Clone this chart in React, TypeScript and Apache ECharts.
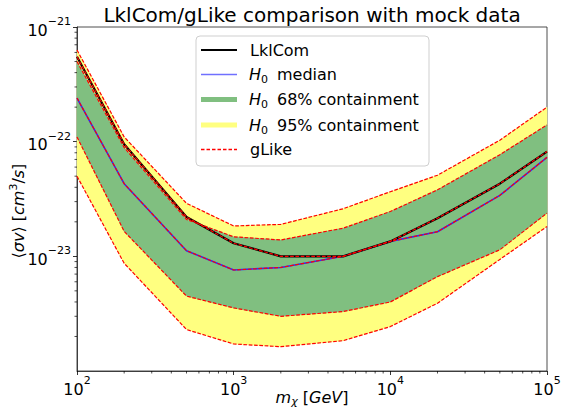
import React, { useEffect, useRef } from "react";
import * as echarts from "echarts";

// ---- data ----
const masses = [100, 200, 500, 1000, 2000, 5000, 10000, 20000, 50000, 100000];
const lklCom = [5.5e-22, 9.5e-23, 2.2e-23, 1.3e-23, 1.0e-23, 1.0e-23, 1.35e-23, 2.15e-23, 4.3e-23, 8.2e-23];
const h0Median = [2.4e-22, 4.3e-23, 1.12e-23, 7.6e-24, 8.0e-24, 1.0e-23, 1.35e-23, 1.64e-23, 3.4e-23, 7.3e-23];
const h0Upper68 = [5.0e-22, 8.9e-23, 2.1e-23, 1.48e-23, 1.39e-23, 1.76e-23, 2.46e-23, 3.8e-23, 7.7e-23, 1.4e-22];
const h0Lower68 = [1.1e-22, 1.65e-23, 4.5e-24, 3.55e-24, 3.0e-24, 3.3e-24, 4.0e-24, 6.65e-24, 1.14e-23, 2.38e-23];
const h0Upper95 = [6.3e-22, 1.1e-22, 2.9e-23, 1.84e-23, 1.9e-23, 2.6e-23, 3.66e-23, 5.1e-23, 1.03e-22, 2.0e-22];
const h0Lower95 = [5.0e-23, 8.7e-24, 2.3e-24, 1.72e-24, 1.63e-24, 1.84e-24, 2.44e-24, 3.9e-24, 9.4e-24, 1.82e-23];
// gLike curves (coincide with the LklCom ones)
const gLikeObserved = [5.5e-22, 9.5e-23, 2.2e-23, 1.3e-23, 1.0e-23, 1.0e-23, 1.35e-23, 2.15e-23, 4.3e-23, 8.2e-23];
const gLikeMedian = [2.4e-22, 4.3e-23, 1.12e-23, 7.6e-24, 8.0e-24, 1.0e-23, 1.35e-23, 1.64e-23, 3.4e-23, 7.3e-23];
const gLikeUpper68 = [5.0e-22, 8.9e-23, 2.1e-23, 1.48e-23, 1.39e-23, 1.76e-23, 2.46e-23, 3.8e-23, 7.7e-23, 1.4e-22];
const gLikeLower68 = [1.1e-22, 1.65e-23, 4.5e-24, 3.55e-24, 3.0e-24, 3.3e-24, 4.0e-24, 6.65e-24, 1.14e-23, 2.38e-23];
const gLikeUpper95 = [6.3e-22, 1.1e-22, 2.9e-23, 1.84e-23, 1.9e-23, 2.6e-23, 3.66e-23, 5.1e-23, 1.03e-22, 2.0e-22];
const gLikeLower95 = [5.0e-23, 8.7e-24, 2.3e-24, 1.72e-24, 1.63e-24, 1.84e-24, 2.44e-24, 3.9e-24, 9.4e-24, 1.82e-23];

const xRange = [100, 100000];
const yRange = [1e-24, 1e-21];
const titleText = "LklCom/gLike comparison with mock data";
const legendLabels = ["LklCom", "median", "68% containment", "95% containment", "gLike"];

const FONT = "DejaVu Sans";
const RED = "#ff0000";
const DASH = [3.7, 1.6];

function minorTicks(lo: number, hi: number) {
  const out: number[] = [];
  for (let d = lo; d < hi; d *= 10) {
    for (let k = 2; k <= 9; k++) out.push(d * k);
  }
  return out;
}

const tickRich = {
  b: { fontSize: 16, fontFamily: FONT, color: "#000", lineHeight: 22, verticalAlign: "bottom" },
  s: { fontSize: 11, fontFamily: FONT, color: "#000", lineHeight: 12, verticalAlign: "top" },
};
const tickFmt = (v: number) => {
  const e = Math.round(Math.log10(v));
  return "{b|10}{s|" + (e < 0 ? "\u2212" + -e : String(e)) + "}";
};

function band(name: string, lower: number[], upper: number[], color: string) {
  return {
    type: "custom",
    name,
    silent: true,
    data: masses.map((m, i) => [m, lower[i], upper[i]]),
    encode: { x: 0, y: [1, 2] },
    renderItem: (params: any, api: any) => {
      if (params.dataIndex !== 0) return null;
      const pts: number[][] = [];
      for (let i = 0; i < masses.length; i++) pts.push(api.coord([masses[i], upper[i]]));
      for (let i = masses.length - 1; i >= 0; i--) pts.push(api.coord([masses[i], lower[i]]));
      return { type: "polygon", shape: { points: pts }, style: { fill: color, stroke: color, lineWidth: 0.5 } };
    },
  };
}

function line(name: string, vals: number[], color: string, width: number, dash?: number[]) {
  return {
    type: "line",
    name,
    silent: true,
    showSymbol: false,
    symbol: "none",
    data: masses.map((m, i) => [m, vals[i]]),
    lineStyle: { color, width, type: dash || "solid", opacity: 1 },
  };
}

function tickSeries(vals: number[], axis: "x" | "y") {
  return {
    type: "custom",
    silent: true,
    clip: false,
    data: vals.map((v) => (axis === "x" ? [v, yRange[0]] : [xRange[0], v])),
    renderItem: (params: any, api: any) => {
      const p = api.coord([api.value(0), api.value(1)]);
      const shape =
        axis === "x"
          ? { x1: p[0], y1: p[1], x2: p[0], y2: p[1] + 2.5 }
          : { x1: p[0], y1: p[1], x2: p[0] - 2.5, y2: p[1] };
      return { type: "line", shape, style: { stroke: "#000", lineWidth: 0.7 } };
    },
  };
}

function legendGraphic() {
  const rows = [50, 74.5, 99.5, 125, 149.5];
  const els: any[] = [
    {
      type: "rect",
      shape: { x: 196, y: 36, width: 233, height: 130, r: 4 },
      style: { fill: "rgba(255,255,255,0.85)", stroke: "#cfcfcf", lineWidth: 1 },
    },
  ];
  const samples = [
    { stroke: "#000000", lineWidth: 2 },
    { stroke: "#7070ff", lineWidth: 1.5 },
    { stroke: "#80bf80", lineWidth: 5 },
    { stroke: "#ffff80", lineWidth: 5 },
    { stroke: RED, lineWidth: 1.4, lineDash: [3.5, 2] },
  ];
  rows.forEach((y, i) => {
    els.push({ type: "line", shape: { x1: 201, y1: y, x2: 237, y2: y }, style: { ...samples[i], fill: null } });
  });
  const txt = (x: number, y: number, text: string, size = 16, italic = false) => ({
    type: "text",
    x,
    y,
    style: {
      text,
      fontFamily: FONT,
      fontSize: size,
      fontStyle: italic ? "italic" : "normal",
      fill: "#000",
      verticalAlign: "middle",
      align: "left",
    },
  });
  els.push(txt(250, rows[0], legendLabels[0]));
  [1, 2, 3].forEach((i) => {
    els.push(txt(249, rows[i], "H", 16, true));
    els.push(txt(261, rows[i] + 5, "0", 11));
    els.push(txt(277, rows[i], legendLabels[i]));
  });
  els.push(txt(250, rows[4], legendLabels[4]));
  return els;
}

const labelRich = {
  n: { fontSize: 16, fontFamily: FONT, color: "#000", lineHeight: 20 },
  i: { fontSize: 16, fontFamily: FONT, fontStyle: "italic", color: "#000", lineHeight: 20 },
  sub: { fontSize: 11, fontFamily: FONT, fontStyle: "italic", color: "#000", lineHeight: 14, verticalAlign: "bottom" },
  sup: { fontSize: 11, fontFamily: FONT, color: "#000", lineHeight: 12, verticalAlign: "top" },
};

export default function App() {
  const ref = useRef<HTMLDivElement>(null);
  useEffect(() => {
    if (!ref.current) return;
    const chart = echarts.init(ref.current, null, { renderer: "svg" });
    chart.setOption({
      animation: false,
      backgroundColor: "#fff",
      title: {
        text: titleText,
        left: 312,
        top: 5,
        padding: 0,
        textAlign: "center",
        textStyle: { fontFamily: FONT, fontSize: 20, fontWeight: "normal", color: "#000" },
      },
      grid: {
        left: 77,
        right: 14,
        top: 27,
        bottom: 38,
        show: true,
        borderColor: "#222",
        borderWidth: 0.8,
        outerBoundsMode: "none",
      },
      xAxis: {
        type: "log",
        logBase: 10,
        min: xRange[0],
        max: xRange[1],
        axisLine: { show: true, lineStyle: { color: "#222", width: 0.8 } },
        axisTick: { show: true, length: 4, lineStyle: { color: "#000", width: 0.8 } },
        axisLabel: { formatter: tickFmt, rich: tickRich, margin: 4, showMinLabel: true, showMaxLabel: true },
        splitLine: { show: false },
      },
      yAxis: {
        type: "log",
        logBase: 10,
        min: yRange[0],
        max: yRange[1],
        axisLine: { show: true, lineStyle: { color: "#222", width: 0.8 } },
        axisTick: { show: true, length: 4, lineStyle: { color: "#000", width: 0.8 } },
        axisLabel: { formatter: tickFmt, rich: tickRich, margin: 6, showMinLabel: true, showMaxLabel: true },
        splitLine: { show: false },
      },
      series: [
        band("H0 95% containment", h0Lower95, h0Upper95, "#ffff80"),
        band("H0 68% containment", h0Lower68, h0Upper68, "#80bf80"),
        line("H0 median", h0Median, "#2a2aff", 1.6),
        line("LklCom", lklCom, "#000000", 2.2),
        line("gLike", gLikeObserved, RED, 1.2, DASH),
        line("gLike median", gLikeMedian, RED, 1.2, DASH),
        line("gLike upper 68", gLikeUpper68, RED, 1.2, DASH),
        line("gLike lower 68", gLikeLower68, RED, 1.2, DASH),
        line("gLike upper 95", gLikeUpper95, RED, 1.2, DASH),
        line("gLike lower 95", gLikeLower95, RED, 1.2, DASH),
        tickSeries(minorTicks(xRange[0], xRange[1]), "x"),
        tickSeries(minorTicks(yRange[0], yRange[1]), "y"),
      ],
      graphic: [
        ...legendGraphic(),
        {
          type: "text",
          x: 312,
          y: 397,
          style: {
            text: "{i|m}{sub|\u03c7}{n| [}{i|GeV}{n|]}",
            rich: labelRich,
            align: "center",
            verticalAlign: "middle",
          },
        },
        {
          type: "text",
          x: 18,
          y: 211,
          rotation: Math.PI / 2,
          style: {
            text: "{n|\u27e8}{i|\u03c3v}{n|\u27e9 [}{i|cm}{sup|3}{n|/}{i|s}{n|]}",
            rich: labelRich,
            align: "center",
            verticalAlign: "middle",
          },
        },
      ],
    });
    return () => chart.dispose();
  }, []);
  return (
    <div
      ref={ref}
      style={{ position: "fixed", left: 0, top: 0, width: 561, height: 409 }}
    />
  );
}
